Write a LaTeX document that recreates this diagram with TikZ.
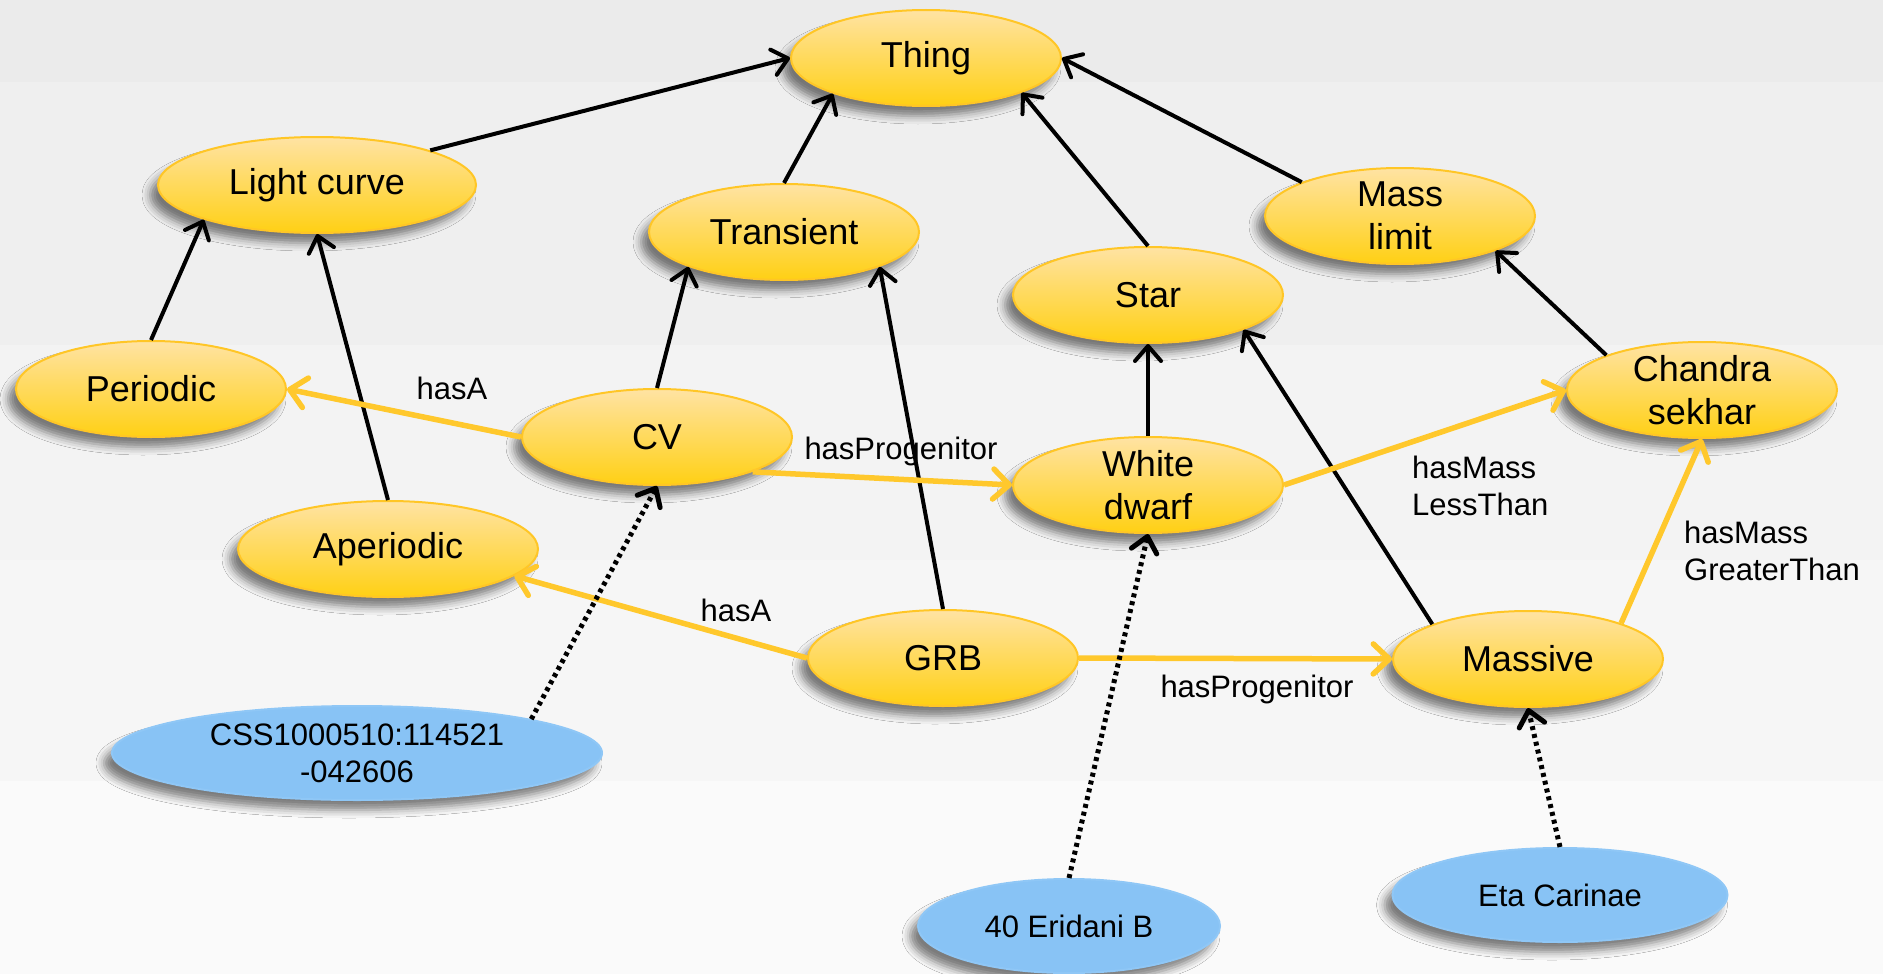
\documentclass[tikz,border=0pt]{standalone}
\usepackage{fontspec}
\setmainfont{Liberation Sans}
\usetikzlibrary{shapes.geometric,arrows.meta,shadows.blur}
\definecolor{bandA}{HTML}{EBEBEB}
\definecolor{bandB}{HTML}{EFEFEF}
\definecolor{bandC}{HTML}{F3F3F3}
\definecolor{bandD}{HTML}{F6F6F6}
\definecolor{bandE}{HTML}{FAFAFA}
\definecolor{clstop}{HTML}{FFE3A3}
\definecolor{clsbot}{HTML}{FFD014}
\definecolor{clsedge}{HTML}{FFC626}
\definecolor{indfill}{HTML}{88C3F5}
\definecolor{indedge}{HTML}{8FC7F6}
\definecolor{propline}{HTML}{FFC82C}
\begin{document}
\begin{tikzpicture}[x=1pt,y=-1pt,
	ent/.style={ellipse,line width=2pt,minimum width=270pt,minimum height=96pt,inner sep=-8pt,align=center,
		blur shadow={shadow xshift=-8pt,shadow yshift=-10pt,shadow blur radius=8pt,shadow opacity=50}},
	cls/.style={ent,draw=clsedge,top color=clstop,bottom color=clsbot,font=\fontsize{36}{43}\selectfont},
	ind/.style={ent,draw=indedge,fill=indfill,minimum height=94pt,font=\fontsize{31}{37}\selectfont},
	isa/.style={-{Straight Barb[length=15pt,width=26pt,round]},line width=4pt},
	has/.style={-{Straight Barb[length=16pt,width=30pt,round]},line width=5.5pt,draw=propline},
	inst/.style={-{Straight Barb[length=15pt,width=26pt,round]},line width=5pt,dash pattern=on 4pt off 4pt},
	lbl/.style={font=\fontsize{31}{37}\selectfont,align=left,inner sep=0pt}]
		% background bands
		\useasboundingbox (0,0) rectangle (1883,974);
		\fill[bandA] (0,0) rectangle (1883,82);
		\fill[bandB] (0,82) rectangle (1883,345);
		\fill[bandC] (0,345) rectangle (1883,560);
		\fill[bandD] (0,560) rectangle (1883,781);
		\fill[bandE] (0,781) rectangle (1883,974);

		% classes
		\node[cls] (thing) at (926,58) {Thing};
		\node[cls,minimum width=318pt] (lc) at (317,185) {Light curve};
		\node[cls] (transient) at (784,232) {Transient};
		\node[cls] (masslimit) at (1400,216) {Mass\\limit};
		\node[cls] (star) at (1148,295) {Star};
		\node[cls] (periodic) at (151,389) {Periodic};
		\node[cls] (cv) at (657,437) {CV};
		\node[cls] (chandra) at (1702,390) {Chandra\\sekhar};
		\node[cls] (wd) at (1148,485) {White\\dwarf};
		\node[cls,minimum width=300pt] (aperiodic) at (388,549) {Aperiodic};
		\node[cls] (grb) at (943,658) {GRB};
		\node[cls] (massive) at (1528,659) {Massive};

		% individuals
		\node[ind,minimum width=490pt] (css) at (357,753) {CSS1000510:114521\\-042606};
		\node[ind,minimum width=302pt] (eridani) at (1069,926) {40 Eridani B};
		\node[ind,minimum width=335pt] (eta) at (1560,895) {Eta Carinae};

		% subclass links
		\draw[isa] (lc.17) -- (thing.west);
		\draw[isa] (transient.north) -- (thing.201);
		\draw[isa] (star.north) -- (thing.340);
		\draw[isa] (masslimit.161) -- (thing.east);
		\draw[isa] (periodic.north) -- (lc.197);
		\draw[isa] (aperiodic.north) -- (lc.south);
		\draw[isa] (cv.north) -- (transient.200);
		\draw[isa] (grb.north) -- (transient.340);
		\draw[isa] (wd.north) -- (star.south);
		\draw[isa] (massive.160) -- (star.340);
		\draw[isa] (chandra.160) -- (masslimit.340);

		% properties
		\draw[has] (cv.west) -- (periodic.east);
		\draw[has] (cv.340) -- (wd.west);
		\draw[has] (wd.east) -- (chandra.west);
		\draw[has] (grb.west) -- (aperiodic.348);
		\draw[has] (grb.east) -- (massive.west);
		\draw[has] (massive.21) -- (chandra.south);

		% instances
		\draw[inst] (css.11) -- (cv.south);
		\draw[inst] (eridani.north) -- (wd.south);
		\draw[inst] (eta.north) -- (massive.south);

		\node[lbl] (hasa1) at (452,388) {hasA};
		\node[lbl] (prog1) at (901,451) {hasProgenitor};
		\node[lbl,anchor=west] (less) at (1412,486) {hasMass\\LessThan};
		\node[lbl] (hasa2) at (736,610) {hasA};
		\node[lbl] (prog2) at (1257,689) {hasProgenitor};
		\node[lbl,anchor=west] (greater) at (1684,551) {hasMass\\GreaterThan};
\end{tikzpicture}
\end{document}
